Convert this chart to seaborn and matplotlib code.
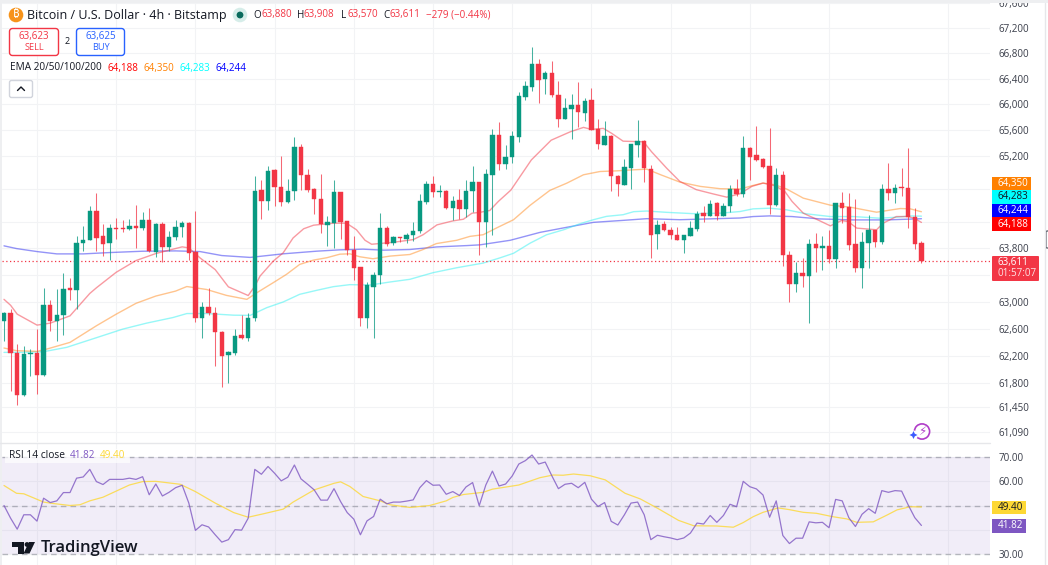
import matplotlib
matplotlib.use("Agg")
import matplotlib.pyplot as plt
from matplotlib.patches import Circle, FancyBboxPatch, Polygon, Rectangle
import numpy as np
import pandas as pd
import seaborn as sns

# candles (bar 0 = leftmost)
open_px = [
    62715, 62837, 62234, 61622, 62229, 62239, 61916, 62945, 62715, 62798,
    63205, 63165, 63879, 63929, 64360, 63979, 63879, 64110, 64110, 64095,
    64135, 64105, 64220, 63748, 64170, 63819, 63969, 64115, 64180, 63738,
    62749, 62925, 62837, 62553, 62210, 62239, 62504, 62465, 62750, 64685,
    64506, 64990, 64730, 64491, 64669, 65342, 64914, 64695, 64542, 64156,
    64186, 64644, 64206, 63779, 63515, 62750, 63222, 63391, 64097, 63878,
    63968, 63938, 63992, 64052, 64501, 64776, 64644, 64659, 64404, 64527,
    64394, 64659, 64807, 64201, 64914, 65526, 65077, 65182, 65498, 66123,
    66279, 66628, 66399, 66498, 66149, 65774, 65935, 65998, 65862, 66071,
    65612, 65375, 65514, 64898, 64762, 65025, 65375, 65436, 64999, 64006,
    64163, 64077, 63996, 63925, 63976, 64088, 64326, 64290, 64478, 64290,
    64432, 64696, 64624, 65322, 65210, 65159, 65041, 64450, 64914, 63694,
    63257, 63431, 63376, 63863, 63809, 63838, 63630, 64481, 64420, 63863,
    63505, 63873, 64067, 63898, 64700, 64634, 64730, 64710, 64277, 63880,
]
high_px = [
    62847, 62886, 62372, 62337, 62298, 62592, 63205, 63023, 63190, 63427,
    63352, 63989, 64140, 64441, 64631, 64165, 64170, 64255, 64220, 64240,
    64451, 64340, 64400, 64180, 64195, 64054, 64220, 64205, 64195, 64360,
    62999, 63205, 62925, 62558, 62274, 62592, 62803, 62837, 64899, 64827,
    65052, 65001, 65205, 64848, 65500, 65388, 65001, 64710, 64929, 64287,
    64827, 64644, 64216, 63987, 63515, 63292, 63441, 64328, 64127, 63977,
    63968, 64027, 64191, 64623, 64822, 64899, 64761, 64685, 64593, 64695,
    64837, 65041, 64807, 65001, 65622, 65724, 65373, 65592, 66190, 66362,
    66904, 66711, 66524, 66675, 66368, 66102, 66159, 66352, 66097, 66253,
    65769, 65743, 65524, 64914, 65157, 65385, 65758, 65446, 65066, 64229,
    64214, 64118, 64118, 64001, 64204, 64356, 64432, 64523, 64503, 64483,
    64762, 64853, 65510, 65347, 65663, 65169, 65638, 65016, 64975, 63754,
    63590, 63645, 63943, 64027, 63977, 64067, 64481, 64649, 64634, 64547,
    64037, 64302, 64067, 64776, 65092, 64771, 65016, 65322, 64404, 63908,
]
low_px = [
    62420, 61686, 61475, 61612, 61906, 61646, 61906, 62558, 62411, 62504,
    63023, 62886, 63753, 63919, 63753, 63688, 63618, 63939, 64039, 64080,
    63803, 64080, 63748, 63663, 63588, 63753, 63919, 63969, 63628, 62690,
    62465, 62798, 62043, 61749, 61798, 62210, 62445, 62420, 62710, 64236,
    64369, 64430, 64430, 64481, 64532, 64685, 64644, 64318, 64027, 63828,
    63804, 63938, 63694, 63321, 62645, 62606, 62457, 63257, 63838, 63843,
    63888, 63878, 63913, 64027, 64465, 64572, 64567, 64394, 64226, 64236,
    64277, 64353, 63694, 63813, 64002, 64990, 65006, 65101, 65416, 66071,
    66217, 66029, 66164, 66123, 65654, 65769, 65461, 65654, 65743, 65602,
    65309, 65370, 64660, 64584, 64751, 64696, 65192, 64797, 63656, 63788,
    64062, 63935, 63915, 63732, 63976, 64052, 64189, 64280, 64229, 64280,
    64351, 64584, 64572, 64827, 65133, 65016, 64313, 64440, 63530, 62993,
    63148, 63217, 62685, 63441, 63466, 63570, 63505, 64186, 63779, 63441,
    63197, 63505, 63813, 63868, 64532, 64481, 64583, 64102, 63794, 63570,
]
close_px = [
    62837, 62234, 61632, 62224, 62239, 61916, 62945, 62715, 62798, 63180,
    63170, 63879, 63929, 64360, 63949, 63869, 64100, 64095, 64095, 64135,
    64105, 64220, 63758, 64170, 63819, 63969, 64120, 64180, 63728, 62749,
    62925, 62827, 62543, 62200, 62249, 62494, 62465, 62763, 64669, 64506,
    64965, 64720, 64491, 64669, 65342, 64904, 64685, 64542, 64171, 64196,
    64644, 64196, 63769, 63505, 62750, 63242, 63391, 64102, 63868, 63968,
    63948, 64002, 64057, 64511, 64776, 64649, 64659, 64404, 64511, 64394,
    64664, 64807, 64201, 64929, 65526, 65077, 65194, 65508, 66138, 66289,
    66628, 66388, 66498, 66149, 65774, 65946, 65998, 65878, 66060, 65602,
    65380, 65508, 64898, 64777, 65035, 65385, 65436, 65015, 64001, 64153,
    64067, 63991, 63925, 63991, 64103, 64321, 64290, 64473, 64290, 64442,
    64696, 64625, 65322, 65194, 65143, 65026, 64455, 64904, 63689, 63257,
    63431, 63381, 63863, 63804, 63838, 63630, 64481, 64404, 63848, 63495,
    63888, 64067, 63893, 64700, 64634, 64710, 64705, 64277, 63868, 63611,
]

ema20_bar = [0, 1, 2, 5, 7, 10, 13, 14, 17, 20, 23, 27, 28, 29.7, 32, 34, 37, 38, 38.8, 40.8, 42.3, 43.8, 45.4, 46.9,
             49.9, 51.9, 53.4, 54.7, 55.7, 59, 62, 63.5, 65.6, 68, 69.6, 70.9, 72.1, 73.6, 74.9, 76.8, 79.9, 82.9,
             85.8, 87.8, 89, 90.8, 92.1, 93.8, 96.9, 98.1, 100.4, 102.4, 104.9, 107.5, 109.5, 111.5, 113.3, 115,
             116.8, 118.3, 119.4, 121.1, 123.1, 125.2, 126.9, 127.9, 129.2, 132.2, 133.2, 135.2, 137, 138, 139]
ema20_val = [63033, 62945, 62813, 62651, 62680, 62788, 63121, 63205, 63437, 63613, 63718, 63819, 63803, 63653, 63477,
             63219, 63090, 63229, 63381, 63605, 63729, 63953, 64092, 64146, 64176, 64176, 64077, 63918, 63858, 63888,
             63928, 64002, 64151, 64211, 64236, 64328, 64341, 64369, 64507, 64680, 65142, 65446, 65576, 65644, 65613,
             65629, 65550, 65431, 65421, 65269, 65015, 64812, 64686, 64620, 64572, 64624, 64736, 64787, 64746, 64659,
             64507, 64328, 64236, 64136, 64216, 64201, 64102, 64077, 64176, 64277, 64277, 64247, 64188]
ema50_bar = [0, 1.9, 5, 6.5, 10, 14, 17, 20, 23, 26, 27.7, 30.7, 33.7, 36.8, 38.3, 40.8, 42.8, 44.8, 46.9, 48.9, 50.9,
             52.4, 53.9, 55.9, 58.5, 61.5, 63.5, 65.5, 68.6, 70.6, 72.6, 74.6, 77.2, 79.7, 82.7, 85.3, 87.8, 90.3,
             92.8, 95.4, 97.4, 99.5, 102.4, 105.5, 108.5, 111.5, 113.5, 115, 116.8, 118.6, 121.1, 125.2, 128.2,
             132.2, 135.8, 137.3, 139]
ema50_val = [62313, 62274, 62264, 62298, 62396, 62641, 62813, 62974, 63082, 63156, 63224, 63180, 63092, 63033, 63131,
             63282, 63406, 63555, 63620, 63655, 63709, 63714, 63670, 63640, 63680, 63704, 63779, 63868, 63918, 63977,
             64002, 64103, 64229, 64447, 64675, 64787, 64914, 64964, 64974, 64990, 65000, 64914, 64802, 64736, 64701,
             64695, 64751, 64787, 64761, 64695, 64557, 64450, 64420, 64343, 64399, 64394, 64350]
ema100_bar = [0, 2.4, 6, 9.5, 14, 18, 21.6, 25.6, 27.7, 30.7, 34.8, 37.3, 39.8, 42.3, 44.8, 47.4, 49.9, 52.4, 55.5,
              58.5, 61.5, 65, 68.6, 72.6, 75.2, 77.2, 79.7, 82.2, 84.8, 87.3, 89.3, 91.3, 93.8, 95.4, 97.4, 100.4,
              104.4, 108.5, 111.5, 113.5, 116, 118.6, 121.6, 125.2, 128.7, 132.7, 135.2, 137.3, 139]
ema100_val = [62249, 62249, 62259, 62323, 62465, 62592, 62680, 62763, 62822, 62822, 62798, 62795, 62909, 62994, 63108,
              63168, 63222, 63252, 63247, 63292, 63332, 63431, 63505, 63575, 63655, 63722, 63874, 64001, 64077, 64169,
              64229, 64280, 64305, 64351, 64361, 64341, 64321, 64328, 64353, 64394, 64404, 64379, 64318, 64277, 64277,
              64252, 64267, 64287, 64283]
ema200_bar = [0, 1.9, 5, 8, 12, 16, 21, 26, 29.7, 33, 37.3, 42.3, 47.4, 50.9, 54.4, 57.5, 61.5, 65.6, 70.1, 72.1, 76.7,
              81.2, 85.2, 89.3, 93.8, 97.4, 102.4, 111.5, 113.5, 116, 119.4, 123.6, 128.7, 133.7, 139]
ema200_val = [63834, 63793, 63748, 63713, 63713, 63733, 63753, 63758, 63748, 63688, 63660, 63714, 63754, 63774, 63784,
              63769, 63779, 63818, 63838, 63849, 63918, 64037, 64113, 64189, 64219, 64245, 64229, 64255, 64277, 64287,
              64277, 64241, 64226, 64226, 64244]

rsi_val = [
    50.0, 44.8, 40.3, 46.2, 46.2, 43.6, 53.0, 51.2, 51.9, 55.3,
    55.3, 61.2, 61.7, 64.8, 59.8, 58.6, 60.7, 60.7, 60.7, 61.2,
    60.7, 61.8, 54.4, 58.8, 53.9, 55.4, 57.3, 58.3, 51.0, 39.8,
    42.1, 41.2, 38.0, 35.0, 36.0, 40.1, 39.9, 44.8, 64.8, 62.8,
    66.0, 63.2, 60.1, 61.6, 66.6, 60.9, 58.7, 56.4, 52.2, 52.2,
    56.9, 51.6, 47.1, 44.4, 38.0, 43.7, 45.5, 52.6, 50.7, 51.4,
    51.4, 51.8, 52.3, 57.3, 60.2, 58.3, 58.4, 54.6, 55.7, 54.1,
    57.6, 59.4, 49.9, 58.4, 64.1, 58.0, 58.8, 62.1, 67.0, 68.4,
    70.7, 67.0, 67.8, 62.2, 56.9, 58.7, 59.1, 57.3, 59.5, 52.6,
    49.6, 51.2, 43.5, 42.0, 46.2, 51.0, 51.4, 46.2, 36.0, 37.8,
    37.2, 36.7, 36.0, 36.7, 38.7, 42.8, 42.4, 45.9, 43.1, 45.9,
    50.5, 49.5, 59.9, 57.7, 56.8, 54.3, 45.2, 51.9, 37.7, 34.4,
    36.6, 36.6, 43.3, 42.9, 43.1, 40.9, 52.5, 51.9, 45.0, 41.4,
    46.4, 48.7, 46.8, 56.1, 55.4, 56.1, 55.9, 50.2, 45.0, 41.82,
]
rsi_ma_bar = [0, 1.9, 3, 6, 7.5, 10, 11.5, 13, 15, 16.6, 19, 21, 23, 26.7, 29, 32, 34.8, 37, 39.3, 42.3, 43.8, 47, 50,
              51, 52.4, 54.4, 57, 58.5, 61.5, 64.5, 67, 68, 69.6, 72.6, 74, 78, 81.2, 83.2, 84.7, 86.3, 88.8, 91.1,
              94.1, 96.4, 99, 102.2, 104.5, 108, 110.5, 112, 113.5, 115, 117.3, 119, 121.1, 123.1, 125.6, 127.7,
              129.2, 131.7, 133.8, 135.3, 137.3, 139]
rsi_ma_val = [58.2, 55.0, 54.8, 51.4, 50.8, 50.0, 50.3, 51.9, 53.4, 55.4, 58.4, 59.8, 59.9, 58.7, 55.7, 51.0, 47.1,
              45.2, 46.6, 48.5, 51.4, 56.4, 59.1, 59.7, 57.8, 53.7, 51.9, 50.3, 49.2, 50.0, 51.9, 53.3, 54.5, 55.4,
              56.7, 58.4, 61.4, 62.5, 62.4, 62.9, 62.2, 60.5, 55.0, 52.7, 48.9, 43.9, 41.7, 41.6, 41.1, 43.0, 45.4,
              47.2, 49.0, 48.3, 47.2, 46.8, 45.4, 44.5, 43.1, 43.3, 46.1, 48.2, 49.5, 49.40]

price_ticks = [67600, 67200, 66800, 66400, 66000, 65600, 65200, 64700, 64200, 63800, 63400, 63000, 62600,
               62200, 61800, 61450, 61090]
hidden_price_ticks = [64700, 64200, 63400]  # covered by the scale tags
rsi_ticks = [70, 60, 50, 40, 30]
hidden_rsi_ticks = [40]
time_grid = [5, 17, 29, 41, 53, 65, 77, 89, 101, 113, 125, 143]
last_close = 63611

UP = "#089981"
DOWN = "#F23645"
GRID = "#F2F3F5"
TEXT = "#131722"
SCALE = "#3A3E4A"
PURPLE = "#7E57C2"
YELLOW = "#FDD835"
NUM = 7.1

sns.set_theme(style="white")
plt.rcParams["font.family"] = ["Open Sans", "DejaVu Sans"]

W, H = 1048, 565
fig = plt.figure(figsize=(W / 100, H / 100), dpi=100, facecolor="white")


def px_axes(x0, y0, x1, y1, **kw):
    return fig.add_axes([x0 / W, 1 - y1 / H, (x1 - x0) / W, (y1 - y0) / H], **kw)


ax = px_axes(2, 3, 990, 442)
ax_rsi = px_axes(2, 443, 990, 565)
bar_lim = (-0.303, 149.39)

# price pane
ax.set_yscale("log")
ax.set_xlim(*bar_lim)
ax.set_ylim(60946, 67594)
ax.set_yticks(price_ticks)
ax.set_yticklabels(["" if t in hidden_price_ticks else f"{t:,}" for t in price_ticks])
ax.minorticks_off()
ax.set_xticks(time_grid)
ax.tick_params(axis="x", length=0, labelbottom=False)
ax.yaxis.tick_right()
ax.tick_params(axis="y", length=0, pad=6, labelsize=NUM, labelcolor=SCALE)
ax.grid(True, color=GRID, lw=0.8)
ax.set_axisbelow(True)
for s in ax.spines.values():
    s.set_visible(False)

for bars, vals, col, name in [
    (ema200_bar, ema200_val, "#2A2AF0", "EMA200"),
    (ema100_bar, ema100_val, "#30F0F0", "EMA100"),
    (ema50_bar, ema50_val, "#FF8A1E", "EMA50"),
    (ema20_bar, ema20_val, "#F23645", "EMA20"),
]:
    df = pd.DataFrame({"bar": bars, "value": vals})
    sns.lineplot(data=df, x="bar", y="value", color=col, alpha=0.5, lw=1.0, estimator=None, sort=False, ax=ax,
                 zorder=2, label=name, legend=False)
ax.set_xlabel("")
ax.set_ylabel("")

ax.axhline(last_close, color=DOWN, lw=0.9, ls=(0, (1, 2)), zorder=2)

bars = np.arange(len(close_px))
o = np.array(open_px)
c = np.array(close_px)
colors = np.where(c >= o, UP, DOWN)
ax.vlines(bars, low_px, high_px, colors=colors, lw=0.75, alpha=0.75, zorder=3)
ax.bar(bars, np.abs(c - o), bottom=np.minimum(o, c), width=0.66, color=colors, edgecolor=colors, lw=0.3, zorder=4)

# RSI pane
ax_rsi.set_xlim(*bar_lim)
ax_rsi.set_ylim(70 - (565 - 456.7) / 2.44, 70 + (456.7 - 443) / 2.44)
ax_rsi.set_yticks(rsi_ticks)
ax_rsi.set_yticklabels(["" if t in hidden_rsi_ticks else f"{t:.2f}" for t in rsi_ticks])
ax_rsi.set_xticks(time_grid)
ax_rsi.tick_params(axis="x", length=0, labelbottom=False)
ax_rsi.yaxis.tick_right()
ax_rsi.tick_params(axis="y", length=0, pad=6, labelsize=NUM, labelcolor=SCALE)
ax_rsi.grid(True, color=GRID, lw=0.8)
ax_rsi.set_axisbelow(True)
for s in ax_rsi.spines.values():
    s.set_visible(False)
ax_rsi.axhspan(30, 70, color=PURPLE, alpha=0.1, lw=0, zorder=1)
for lev in [70, 50, 30]:
    ax_rsi.axhline(lev, color="#787B86", alpha=0.5, lw=1, ls=(0, (4, 3)), zorder=2)
sns.lineplot(x=rsi_ma_bar, y=rsi_ma_val, color=YELLOW, lw=0.9, alpha=0.8, estimator=None, sort=False, ax=ax_rsi, zorder=3)
sns.lineplot(x=bars, y=rsi_val, color=PURPLE, lw=0.9, alpha=0.8, estimator=None, sort=False, ax=ax_rsi, zorder=4)
ax_rsi.set_xlabel("")
ax_rsi.set_ylabel("")

# overlay in pixel coordinates for the TradingView furniture
ov = fig.add_axes([0, 0, 1, 1], zorder=10, facecolor="none")
ov.set_xlim(0, W)
ov.set_ylim(H, 0)
ov.axis("off")


def txt(x, y, s, color=TEXT, size=NUM, ha="left", **kw):
    return ov.text(x, y, s, color=color, fontsize=size, ha=ha, va="center", **kw)


def tag(y0, y1, face, label, tcolor="white", x1=1031):
    ov.add_patch(Rectangle((992, y0), x1 - 992, y1 - y0, fc=face, ec="none"))
    txt(998, (y0 + y1) / 2, label, color=tcolor)


# window edges
ov.add_patch(Rectangle((0, 0), W, 3, fc="#EEEFF1", ec="none"))
ov.add_patch(Rectangle((0, 0), 2, H, fc="#EEEFF1", ec="none"))
ov.plot([0, 990], [442.5, 442.5], color="#E6E7EA", lw=1)
ov.plot([1044.5, 1044.5], [3, H], color="#E6E7EA", lw=1)
ov.add_patch(FancyBboxPatch((1046, 231), 3, 17, boxstyle="round,pad=0,rounding_size=1", fc="white", ec="#3A3E4A", lw=0.8))

# header
ov.add_patch(Circle((16, 15), 7.3, fc="#F7931A", ec="none"))
txt(16, 15, "\u20bf", color="white", size=8, ha="center", family=["Noto Sans", "Roboto", "Lato", "Inter", "DejaVu Sans"], fontweight="bold")
txt(27, 15, "Bitcoin / U.S. Dollar \u00b7 4h \u00b7 Bitstamp", size=9.0)
ov.add_patch(Circle((240, 15), 7.3, fc="#D6EDE9", ec="none"))
ov.add_patch(Circle((240, 15), 3.4, fc="#0A6B5D", ec="none"))
for x, s, col in [(253, "O", TEXT), (261, "63,880", DOWN), (297, "H", TEXT), (304, "63,908", DOWN),
                  (341, "L", TEXT), (347, "63,570", DOWN), (383, "C", TEXT), (389, "63,611", DOWN),
                  (426, "\u2212279 (\u22120.44%)", DOWN)]:
    txt(x, 15, s, color=col)

# sell / buy
ov.add_patch(FancyBboxPatch((9.5, 28.5), 49, 27, boxstyle="round,pad=0,rounding_size=3", fc="white", ec=DOWN, lw=1))
txt(34, 36, "63,623", color=DOWN, ha="center")
txt(34, 47, "SELL", color=DOWN, size=6.6, ha="center")
txt(67, 42, "2", size=6.5, ha="center")
ov.add_patch(FancyBboxPatch((76.5, 28.5), 48, 27, boxstyle="round,pad=0,rounding_size=3", fc="white", ec="#2962FF", lw=1))
txt(101, 36, "63,625", color="#2962FF", ha="center")
txt(101, 47, "BUY", color="#2962FF", size=6.6, ha="center")

# EMA legend
txt(10, 68, "EMA 20/50/100/200", size=7.2)
for x, s, col in [(108, "64,188", "#FF0000"), (144, "64,350", "#FF8000"), (180, "64,283", "#00FFFF"), (216, "64,244", "#0000FF")]:
    txt(x, 68, s, color=col)

# collapse button
ov.add_patch(FancyBboxPatch((9.5, 80.5), 23, 17, boxstyle="round,pad=0,rounding_size=2", fc="white", ec="#D1D4DC", lw=1))
ov.plot([17.5, 21, 24.5], [90.5, 87, 90.5], color=TEXT, lw=1)

# price scale tags
tag(177, 190, "#FF8000", "64,350")
tag(190, 204, "#00FFFF", "64,283", tcolor=TEXT)
tag(204, 217, "#0000FF", "64,244")
tag(217, 231, "#FF0000", "64,188")
ov.add_patch(FancyBboxPatch((992, 256), 47, 25, boxstyle="round,pad=0,rounding_size=1", fc=DOWN, ec="none"))
txt(998, 262.5, "63,611", color="white")
txt(998, 274, "01:57:07", color="white", alpha=0.85)

# RSI scale tags and legend
ov.add_patch(Rectangle((992, 501), 34, 13, fc=YELLOW, ec="none"))
txt(998, 507.5, "49.40", color=TEXT)
ov.add_patch(Rectangle((992, 519), 34, 14, fc=PURPLE, ec="none"))
txt(998, 526, "41.82", color="white")
ov.add_patch(Rectangle((5, 449), 125, 14, fc="white", alpha=0.7, ec="none"))
txt(9, 456, "RSI 14 close", size=7.3)
txt(70, 456, "41.82", color=PURPLE)
txt(100, 456, "49.40", color=YELLOW)

# TradingView logo
ov.add_patch(Polygon([(12, 542), (24, 542), (24, 553.5), (17.5, 553.5), (17.5, 547), (12, 547)], fc=TEXT, ec="none"))
ov.add_patch(Circle((27, 544.5), 2.4, fc=TEXT, ec="none"))
ov.add_patch(Polygon([(29, 542), (35, 542), (29.5, 553.5), (23.5, 553.5)], fc=TEXT, ec="none"))
txt(41, 548, "TradingView", size=12, fontweight="semibold", color=TEXT)

# lightning badge near the RSI divider
ov.add_patch(Circle((922, 431.5), 7.6, fc="white", ec="#B03CC8", lw=1.2))
txt(922, 431.5, "\u26a1", color="#B03CC8", size=8.5, ha="center", family="DejaVu Sans")
ov.add_patch(Circle((913.5, 435), 4.5, fc="white", ec="none"))
ov.add_patch(Polygon([(913.5, 431), (914.8, 433.7), (917.5, 435), (914.8, 436.3), (913.5, 439), (912.2, 436.3), (909.5, 435), (912.2, 433.7)],
                     fc="#3D5AFE", ec="none"))

fig.savefig("out.png", dpi=100)
